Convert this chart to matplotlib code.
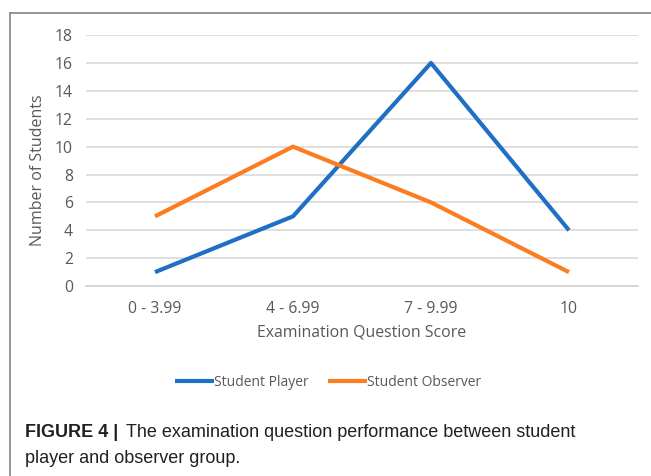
import matplotlib.pyplot as plt
from matplotlib.lines import Line2D

# data
categories = ['0 - 3.99', '4 - 6.99', '7 - 9.99', '10']
player = [1, 5, 16, 4]
observer = [5, 10, 6, 1]

blue = '#1f6fc5'
orange = '#fb7d21'
gray_txt = '#595959'
chart_font = ['Open Sans', 'DejaVu Sans']
cap_font = ['Liberation Sans', 'DejaVu Sans']

fig = plt.figure(figsize=(6.51, 4.76), dpi=100)
ax = fig.add_axes([0.1321, 0.399, 0.8479, 0.5273])

x = range(len(categories))
ax.plot(x, player, color=blue, lw=3, solid_capstyle='butt', label='Student Player')
ax.plot(x, observer, color=orange, lw=3, solid_capstyle='butt', label='Student Observer')

ax.set_xlim(-0.5, len(categories) - 0.5)
ax.set_ylim(0, 18)
ax.set_yticks(range(0, 19, 2))
ax.set_xticks(list(x))
ax.set_xticklabels(categories)
ax.grid(axis='y', color='#d9d9d9', lw=1.2)
ax.set_axisbelow(True)
for s in ['top', 'right', 'left']:
    ax.spines[s].set_visible(False)
ax.spines['bottom'].set_color('#d0d0d0')
ax.spines['bottom'].set_linewidth(1.2)
ax.tick_params(length=0, labelsize=11.3, labelcolor=gray_txt)
ax.tick_params(axis='y', pad=9.5)
ax.tick_params(axis='x', pad=10.5)
for lab in ax.get_xticklabels() + ax.get_yticklabels():
    lab.set_family(chart_font)

ax.set_xlabel('Examination Question Score', fontsize=11.4, color=gray_txt,
              family=chart_font, labelpad=6)
ax.set_ylabel('Number of Students', fontsize=11.5, color=gray_txt,
              family=chart_font)
ax.yaxis.set_label_coords(-0.073, 0.462)

leg = fig.legend(loc='center', bbox_to_anchor=(0.504, 0.197), ncol=2, frameon=False,
                 prop={'family': chart_font, 'size': 10}, handlelength=2.8,
                 handletextpad=0.0, columnspacing=1.4, labelcolor=gray_txt)

# outer frame
fig.add_artist(Line2D([0.0146, 0.0146], [0, 0.9733], color='#8c8c8c', lw=1.3))
fig.add_artist(Line2D([0.0146, 1.0], [0.9733, 0.9733], color='#8c8c8c', lw=1.3))

# caption
fig.text(0.0384, 0.091, 'FIGURE 4 |', fontsize=13, weight='bold', family=cap_font,
         va='center', color='#231f20')
fig.text(0.1935, 0.091, 'The examination question performance between student',
         fontsize=13, family=cap_font, va='center', color='#231f20')
fig.text(0.0384, 0.037, 'player and observer group.', fontsize=13, family=cap_font,
         va='center', color='#231f20')

fig.savefig('out.png', dpi=100)
